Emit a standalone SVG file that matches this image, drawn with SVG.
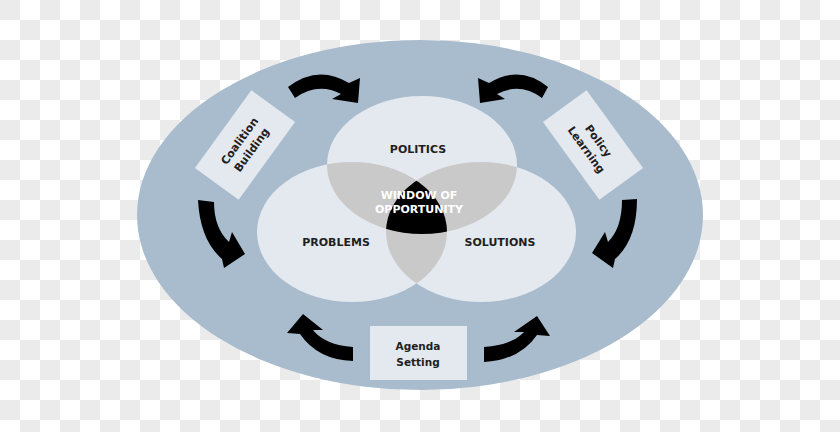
<svg xmlns="http://www.w3.org/2000/svg" width="840" height="432" viewBox="0 0 840 432">
  <style>
    .lbl { font-family: "DejaVu Sans", Verdana, sans-serif; font-weight: bold; font-size: 11px; fill: #1e1e1e; text-anchor: middle; }
    .box { fill: #e4e9f0; }
    .boxlbl { font-family: "DejaVu Sans", Verdana, sans-serif; font-weight: bold; font-size: 10.5px; fill: #1e1e1e; text-anchor: middle; }
    .rot { font-size: 11px; }
    .win { font-family: "DejaVu Sans", Verdana, sans-serif; font-weight: bold; font-size: 11px; fill: #ffffff; text-anchor: middle; }
    .circ { fill: #e4e9f0; }
    .ovl { fill: #c9c9c9; }
    .arrow { fill: #000000; }
  </style>
  <defs>
    <pattern id="checker" x="0" y="0" width="40" height="40" patternUnits="userSpaceOnUse">
      <rect x="0" y="0" width="40" height="40" fill="#ffffff"/>
      <rect x="0" y="0" width="20" height="20" fill="#ebebeb"/>
      <rect x="20" y="20" width="20" height="20" fill="#ebebeb"/>
    </pattern>
    <ellipse id="eA" cx="422" cy="165" rx="95" ry="69"/>
    <ellipse id="eB" cx="352" cy="232" rx="95" ry="70"/>
    <ellipse id="eC" cx="481" cy="232" rx="95" ry="70"/>
    <clipPath id="clipA"><use href="#eA"/></clipPath>
    <clipPath id="clipB"><use href="#eB"/></clipPath>
  </defs>

  <rect x="0" y="0" width="840" height="432" fill="url(#checker)"/>
  <ellipse cx="420" cy="215" rx="283" ry="175" fill="#a9bccd"/>

  <g id="politics">
    <use href="#eA" class="circ"/>
  </g>
  <g id="problems">
    <use href="#eB" class="circ"/>
  </g>
  <g id="solutions">
    <use href="#eC" class="circ"/>
  </g>
  <g id="overlaps">
    <use href="#eB" class="ovl" clip-path="url(#clipA)"/>
    <use href="#eC" class="ovl" clip-path="url(#clipA)"/>
    <use href="#eC" class="ovl" clip-path="url(#clipB)"/>
    <g clip-path="url(#clipA)">
      <use href="#eC" fill="#000000" clip-path="url(#clipB)"/>
    </g>
  </g>

  <text class="lbl" x="418" y="153">POLITICS</text>
  <text class="lbl" x="336" y="246">PROBLEMS</text>
  <text class="lbl" x="500" y="246">SOLUTIONS</text>
  <g id="window">
    <text class="win" x="419" y="199">WINDOW OF</text>
    <text class="win" x="419" y="213">OPPORTUNITY</text>
  </g>

  <g id="coalition-building" transform="translate(245,145) rotate(-54)">
    <rect class="box" x="-48" y="-27" width="96" height="54"/>
    <text class="boxlbl rot" x="0" y="-3">Coalition</text>
    <text class="boxlbl rot" x="0" y="12">Building</text>
  </g>
  <g id="policy-learning" transform="translate(593,145) rotate(54)">
    <rect class="box" x="-48" y="-27" width="96" height="54"/>
    <text class="boxlbl rot" x="0" y="-3">Policy</text>
    <text class="boxlbl rot" x="0" y="12">Learning</text>
  </g>
  <g id="agenda-setting">
    <rect class="box" x="370" y="326" width="97" height="54"/>
    <text class="boxlbl" x="418" y="350">Agenda</text>
    <text class="boxlbl" x="418" y="366">Setting</text>
  </g>

  <g id="connectors">
    <path class="arrow" d="M288,87 Q318,64 349,83 L360,78 L358,103 L332,99 L341,94 Q318,82 295,98 Z"/>
    <path class="arrow" d="M548,87 Q520,64 489,83 L478,78 L480,103 L505,99 L497,94 Q520,82 542,98 Z"/>
    <path class="arrow" d="M198,200 L214,202 Q214,228 229,242 L232,232 L245,254 L224,268 L222,259 Q200,240 198,200 Z"/>
    <path class="arrow" d="M637,199 L622,200 Q622,228 608,242 L605,232 L592,253 L613,268 L615,259 Q637,240 637,199 Z"/>
    <path class="arrow" d="M353,347 L353,361 Q318,360 300,334 L287,333 L303,314 L323,330 L313,330 Q325,345 353,347 Z"/>
    <path class="arrow" d="M484,347 L484,362 Q520,360 537,335 L550,336 L537,316 L514,332 L524,332 Q512,345 484,347 Z"/>
  </g>
</svg>
